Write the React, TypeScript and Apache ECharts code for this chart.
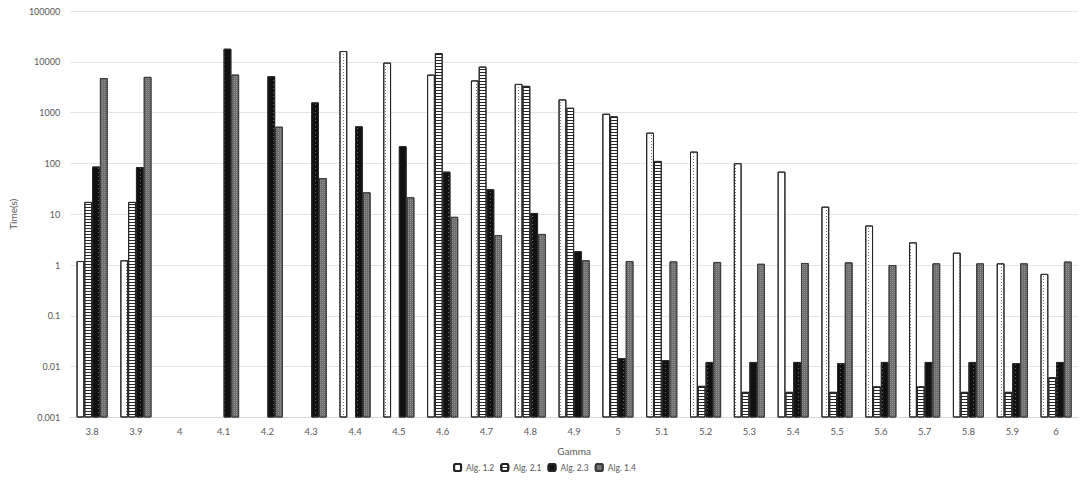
import React, { useEffect, useRef } from "react";
import * as echarts from "echarts";

const categories = ["3.8","3.9","4","4.1","4.2","4.3","4.4","4.5","4.6","4.7","4.8","4.9","5","5.1","5.2","5.3","5.4","5.5","5.6","5.7","5.8","5.9","6"];
const seriesNames = ["Alg. 1.2", "Alg. 2.1", "Alg. 2.3", "Alg. 1.4"];
const alg12 = [1.2, 1.24, null, null, null, null, 16300, 9650, 5600, 4300, 3670, 1820, 950, 403, 171, 101, 69, 14.1, 6.0, 2.8, 1.75, 1.08, 0.67];
const alg21 = [17.5, 17.5, null, null, null, null, null, null, 14900, 8050, 3360, 1245, 845, 112, 0.0042, 0.0032, 0.0032, 0.0032, 0.0041, 0.0041, 0.0032, 0.0032, 0.0062];
const alg23 = [87, 85, null, 18100, 5200, 1590, 537, 218, 69, 31, 10.6, 1.88, 0.0147, 0.0134, 0.0124, 0.0124, 0.0124, 0.0117, 0.0124, 0.0124, 0.0124, 0.0117, 0.0124];
const alg14 = [4800, 5050, null, 5600, 528, 51.5, 27, 21.5, 8.9, 3.9, 4.1, 1.24, 1.2, 1.18, 1.15, 1.06, 1.1, 1.13, 1.0, 1.08, 1.08, 1.08, 1.17];
const yTickLabels = ["0.001", "0.01", "0.1", "1", "10", "100", "1000", "10000", "100000"];

const FONT = "Lato, 'Liberation Sans', sans-serif";
const TXT = "#595959";

export default function App() {
  const ref = useRef<HTMLDivElement>(null);
  useEffect(() => {
    if (!ref.current) return;
    const chart = echarts.init(ref.current, undefined, { renderer: "svg" });
    const styles = [
      { color: "#ffffff", borderColor: "#262626", borderWidth: 1, decal: { symbol: "rect", symbolSize: 1, dashArrayX: [1, 6], dashArrayY: [1, 2], color: "#777777" } },
      { color: "#ffffff", borderColor: "#262626", borderWidth: 1, decal: { symbol: "rect", symbolSize: 1, dashArrayX: [1, 0], dashArrayY: [1, 2], color: "#262626" } },
      { color: "#111111", borderColor: "#262626", borderWidth: 1, decal: { symbol: "rect", symbolSize: 1, dashArrayX: [1, 6], dashArrayY: [1, 3], color: "#6a6a6a" } },
      { color: "#6e6e6e", borderColor: "#3a3a3a", borderWidth: 1, decal: { symbol: "rect", symbolSize: 1, dashArrayX: [1, 1], dashArrayY: [1, 1], color: "#929292" } },
    ];
    const datas = [alg12, alg21, alg23, alg14];
    chart.setOption({
      animation: false,
      textStyle: { fontFamily: FONT },
      grid: { left: 66, right: 11, top: 11, bottom: 73.5 },
      legend: {
        top: 463,
        left: "center",
        itemWidth: 7,
        itemHeight: 7,
        itemGap: 6,
        padding: 0,
        textStyle: { color: TXT, fontSize: 8.5, fontFamily: FONT },
        data: seriesNames,
      },
      xAxis: {
        type: "category",
        data: categories,
        name: "Gamma",
        nameLocation: "middle",
        nameGap: 28,
        nameTextStyle: { color: TXT, fontSize: 10, fontFamily: FONT },
        axisLine: { lineStyle: { color: "#d9d9d9" } },
        axisTick: { show: false },
        axisLabel: { color: TXT, fontSize: 9.5, margin: 9, fontFamily: FONT },
      },
      yAxis: {
        type: "log",
        logBase: 10,
        min: 0.001,
        max: 100000,
        startValue: 0.001,
        name: "Time(s)",
        nameLocation: "middle",
        nameGap: 50,
        nameRotate: 90,
        nameTextStyle: { color: TXT, fontSize: 10, fontFamily: FONT },
        axisLine: { show: false },
        axisTick: { show: false },
        splitLine: { lineStyle: { color: "#e4e4e4", width: 1 } },
        axisLabel: {
          color: TXT,
          fontSize: 9,
          margin: 10,
          fontFamily: FONT,
          formatter: (v: number) => {
            const e = Math.round(Math.log10(v));
            return yTickLabels[e + 3] ?? "";
          },
        },
      },
      series: datas.map((d, i) => ({
        name: seriesNames[i],
        type: "bar",
        data: d,
        barGap: "0%",
        barCategoryGap: "29%",
        itemStyle: styles[i],
      })),
    });
    return () => chart.dispose();
  }, []);
  return <div ref={ref} style={{ position: "fixed", left: 0, top: 0, width: 1089, height: 491, background: "#fff" }} />;
}
